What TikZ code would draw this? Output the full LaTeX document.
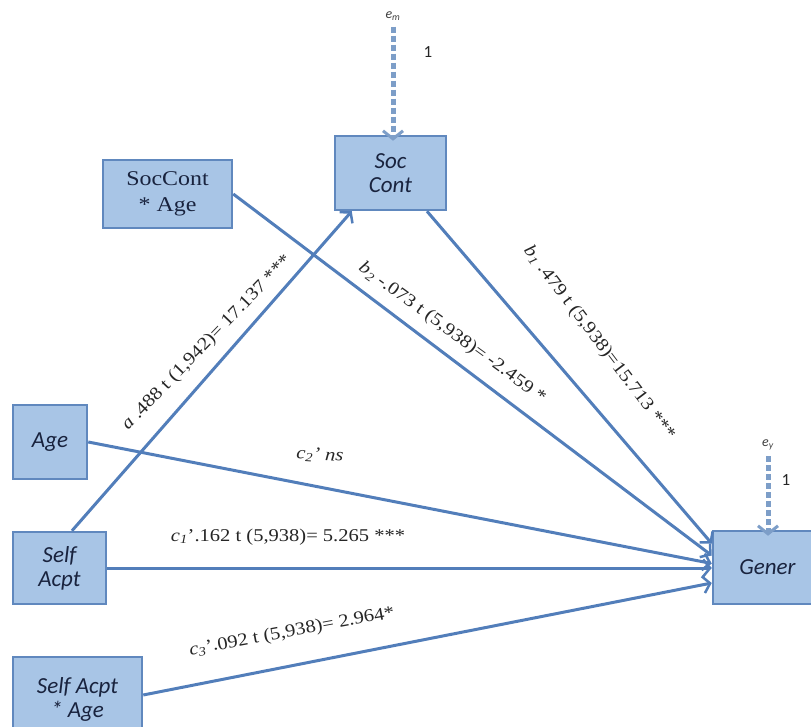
\documentclass[tikz,border=0pt]{standalone}
\usepackage{fontspec}
\setmainfont{Liberation Serif}[FakeStretch=1.14]
\newfontfamily\calfont{Carlito}
\usetikzlibrary{arrows.meta}
\definecolor{boxfill}{RGB}{168,197,230}
\definecolor{boxdraw}{RGB}{96,136,190}
\definecolor{edgecol}{RGB}{82,126,186}
\definecolor{txtcol}{RGB}{25,35,62}
\definecolor{dashcol}{RGB}{125,158,200}
\begin{document}
\begin{tikzpicture}[x=1pt,y=-1pt,
  box/.style={draw=boxdraw, fill=boxfill, line width=2.5pt, inner sep=0pt, align=center, text=txtcol, font=\calfont\itshape\fontsize{23}{24}\selectfont},
  link/.style={draw=edgecol, line width=3pt, -{Straight Barb[length=7pt,width=17pt,line width=2.5pt]}},
  errlink/.style={draw=dashcol, line width=5pt, dash pattern=on 6pt off 3pt, -{Straight Barb[length=8pt,width=20pt,line width=3pt]}},
  lab/.style={font=\fontsize{18}{20}\selectfont, text=black!85, inner sep=0pt},
  errlab/.style={font=\calfont\itshape\fontsize{14}{16}\selectfont, text=black!75, inner sep=0pt},
  onelab/.style={font=\calfont\fontsize{17}{19}\selectfont, text=black!85, inner sep=0pt}
]
\useasboundingbox (0,0) rectangle (811,727);
\clip (0,0) rectangle (811,727);

% nodes
\node[box, minimum width=111pt, minimum height=74pt] (soc) at (390.5,173) {Soc\\Cont};
\node[box, minimum width=129pt, minimum height=68pt, font=\fontsize{21}{26}\selectfont] (sca) at (167.5,194) {SocCont\\* Age};
\node[box, minimum width=74pt, minimum height=74pt] (age) at (50,442) {Age};
\node[box, minimum width=93pt, minimum height=72pt] (sa) at (59.5,568) {Self\\Acpt};
\node[box, minimum width=129pt, minimum height=84pt] (saa) at (77.5,699) {Self Acpt\\* Age};
\node[box, minimum width=109pt, minimum height=73pt] (gen) at (767.5,567.5) {Gener};

% error terms
\node[errlab] (em) at (393,16) {e\textsubscript{m}};
\node[errlab] (ey) at (768,445) {e\textsubscript{y}};
\node[onelab] (onem) at (428,52) {1};
\node[onelab] (oney) at (786,480) {1};
\draw[errlink] ([yshift=-6pt]em.south) -- ([yshift=-6pt]em.south |- soc.north);
\draw[errlink] ([yshift=-6pt]ey.south) -- ([yshift=-6pt]ey.south |- gen.north);

% connectors
\draw[link] ([xshift=12.5pt]sa.north) -- ([xshift=18pt]soc.south west);
\draw[link] (sca.east) -- ([yshift=12pt]gen.west);
\draw[link] ([xshift=36.5pt]soc.south) -- ([yshift=24pt]gen.west);
\draw[link] (age.east) -- ([yshift=4pt]gen.west);
\draw[link] (sa.east) -- (sa.east -| gen.west);
\draw[link] ([yshift=4pt]saa.east) -- ([yshift=-15.5pt]gen.west);

% labels
\node[lab, rotate=46] (la) at (207,343) {\textit{a} .488 t (1,942)= 17.137 ***};
\node[lab, rotate=-36] (lb2) at (452,333) {\textit{b}\textsubscript{\textit{2}} -.073 t (5,938)= -2.459 *};
\node[lab, rotate=-52.8] (lb1) at (599,343) {\textit{b}\textsubscript{\textit{1}} .479 t (5,938)=15.713 ***};
\node[lab, rotate=-4] (lc2) at (320,455) {\textit{c}\textsubscript{\textit{2}}\textit{'} \textit{ns}};
\node[lab] (lc1) at (288,537) {\textit{c}\textsubscript{\textit{1}}'.162 t (5,938)= 5.265 ***};
\node[lab, rotate=10.5] (lc3) at (292,632) {\textit{c}\textsubscript{\textit{3}}'.092 t (5,938)= 2.964*};
\end{tikzpicture}
\end{document}
